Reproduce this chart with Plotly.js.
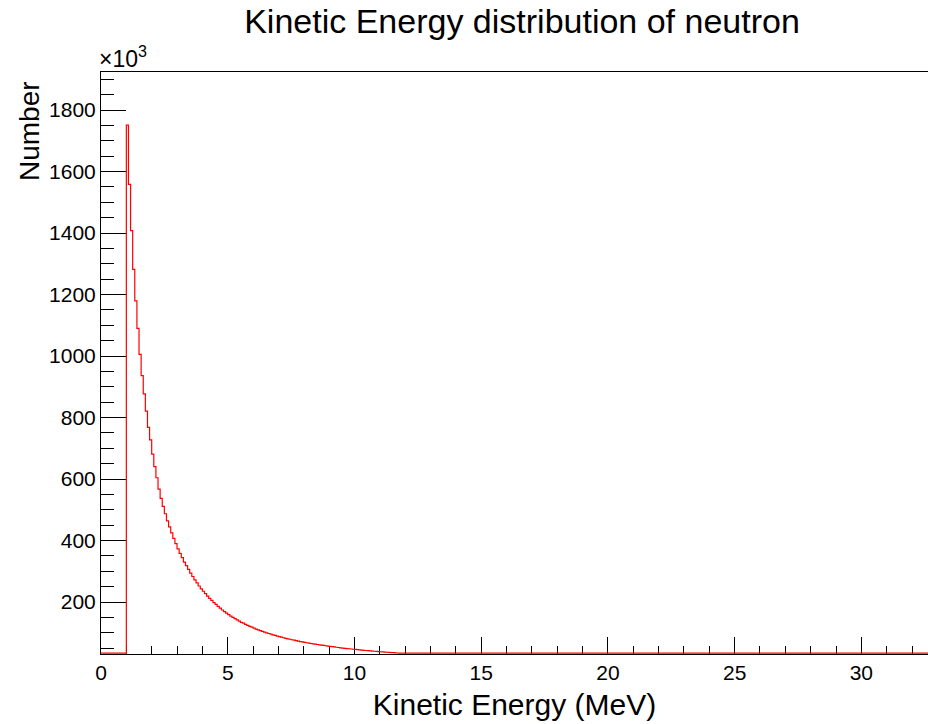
<!DOCTYPE html>
<html>
<head>
<meta charset="utf-8">
<script src="https://cdn.plot.ly/plotly-3.0.1.min.js"></script>
<style>
html, body { margin: 0; padding: 0; background: #ffffff; }
#chart { width: 928px; height: 724px; }
</style>
</head>
<body>
<div id="chart"></div>
<script>
// ---- Data (counts in units of 10^3 per bin) ----
const binWidth = 1 / 12;          // MeV per bin
const histStart = 0;              // MeV, first bin edge
const countsBelowThreshold = [0,0,0,0,0,0,0,0,0,0,0,0];   // 0 - 1 MeV
const countsMain = [
  1751,1558,1408,1282,1179,1090,1005,936,877,821,768,727,681,640,604,567,537,
  511,487,464,444,425,407,390,
  373,358,344,330,318,306,294,283,272,262,252,243,
  235,227,219,212,205,198,192,186,180,
  174,169,164,159,154,150,146,142,138,134,
  131,127.5,124,121,118,115,112,109.5,107,104.5,
  102,99.7,97.5,95.3,93.2,91.2,89.2,87.3,85.5,83.7,
  82,80.4,78.8,77.2,75.7,74.2,72.8,71.4,70.1,68.8,
  67.5,66.3,65.1,64,62.9,61.8,60.7,59.7,58.7,57.7,
  56.7,55.7,54.7,53.8,52.9,52,51.1,50.3,49.5,48.7,
  47.9,47.1,46.4,45.7,45,44.3,43.6,43,42.3,41.7,
  41.1,40.5,39.9,39.3,38.8,38.2,37.7,37.1,36.6,36.1,
  35.6,35.1,34.6,34.1,33.6,33.2,32.7
];
const countsTail = [
  30,30,30,29,29,29,28,28,28,27,27,27,
  26,26,26,25,25,25,25,24,24,24,24,23,
  23,23,23,22,22,22,22,21,21,21,21,21,
  20,20,20,20,20,19,19,19,19,19,19,18,
  18,18,18,18,18,17,17,17,17,17,17,17,
  17,16,16,16,16,16,16,16,15,15,15,15,
  15,15,15,15,15,14,14,14,14,14,14,14,
  14,14,14,13,13,13,13,13,13,13,13,13,
  13,13,12,12,12,12,12,12,12,12,12,12,
  12,12,11,11,11,11,11,11,11,11,11,11,
  11,11,11,10,10,10,10,10,10,10,10,10,
  10,10,10,10,10,10,9,9,9,9,9,9,
  9,9,9,9,9,9,9,9,9,9,8,8,
  8,8,8,8,8,8,8,8,8,8,8,8,
  8,8,8,8,8,8,8,8,7,7,7,7,
  7,7,7,7,7,7,7,7,7,7,7,7,
  7,7,7,7,7,7,7,7,7,7,7,6,
  6,6,6,6,6,6,6,6,6,6,6,6,
  6,6,6,6,6,6,6,6,6,6,6,6,
  6,6,6,6,6,6,6,6,6,6,6,5,
  5,5,5,5,5,5,5,5,5,5,5,5
];
const yAxisMin = 30.9;
const yAxisMax = 1923.6;
const xAxisMin = 0;
const xAxisMax = 32.63;

// ---- Build histogram step line ----
const counts = countsBelowThreshold.concat(countsMain, countsTail);
const edges = counts.map((_, i) => histStart + i * binWidth);
edges.push(histStart + counts.length * binWidth);
// like ROOT, bins below the displayed minimum are drawn along the frame bottom
// (floor lifted slightly so the clipped line stays visible on the axis)
const drawFloor = yAxisMin + 2.6;
const yDraw = counts.map(c => Math.max(c, drawFloor));
yDraw.push(yDraw[yDraw.length - 1]);

const FONT = '"Liberation Sans", Arial, Helvetica, sans-serif';

const trace = {
  type: 'scatter',
  mode: 'lines',
  x: edges,
  y: yDraw,
  line: { shape: 'hv', color: '#ff0000', width: 1.2 },
  hoverinfo: 'skip',
  showlegend: false
};

const layout = {
  width: 928,
  height: 724,
  margin: { l: 101, r: 0, t: 72, b: 70 },
  paper_bgcolor: '#ffffff',
  plot_bgcolor: '#ffffff',
  showlegend: false,
  font: { family: FONT, size: 21, color: '#000000' },
  title: {
    text: 'Kinetic Energy distribution of neutron',
    font: { family: FONT, size: 34, color: '#000000' },
    xref: 'container', x: 522 / 928, xanchor: 'center',
    yref: 'container', y: 1 - 21 / 724, yanchor: 'middle'
  },
  xaxis: {
    range: [xAxisMin, xAxisMax],
    showgrid: false, zeroline: false,
    showline: true, linecolor: '#000000', linewidth: 1, mirror: true,
    ticks: 'inside', ticklen: 17, tickwidth: 1, tickcolor: '#000000',
    tick0: 0, dtick: 5,
    minor: { dtick: 1, ticks: 'inside', ticklen: 8.5, tickwidth: 1, tickcolor: '#000000', showgrid: false },
    tickfont: { family: FONT, size: 21, color: '#000000' },
    title: { text: 'Kinetic Energy (MeV)', font: { family: FONT, size: 30, color: '#000000' }, standoff: 10 },
    layer: 'below traces'
  },
  yaxis: {
    range: [yAxisMin, yAxisMax],
    showgrid: false, zeroline: false,
    showline: true, linecolor: '#000000', linewidth: 1,
    ticks: 'inside', ticklen: 25, tickwidth: 1, tickcolor: '#000000',
    tick0: 0, dtick: 200,
    minor: { dtick: 50, ticks: 'inside', ticklen: 13, tickwidth: 1, tickcolor: '#000000', showgrid: false },
    tickfont: { family: FONT, size: 21, color: '#000000' },
    layer: 'below traces'
  },
  annotations: [
    {
      text: 'Number', textangle: -90,
      xref: 'paper', yref: 'paper',
      x: (29 - 101) / 827, y: (654 - 131) / 582,
      xanchor: 'center', yanchor: 'middle',
      showarrow: false,
      font: { family: FONT, size: 28, color: '#000000' }
    },
    {
      text: '×10<sup>3</sup>',
      xref: 'paper', yref: 'paper',
      x: 0, y: 1, xshift: -4, yshift: -2,
      xanchor: 'left', yanchor: 'bottom',
      showarrow: false,
      font: { family: FONT, size: 23, color: '#000000' }
    }
  ]
};

Plotly.newPlot('chart', [trace], layout, { staticPlot: true, displayModeBar: false });
</script>
</body>
</html>
